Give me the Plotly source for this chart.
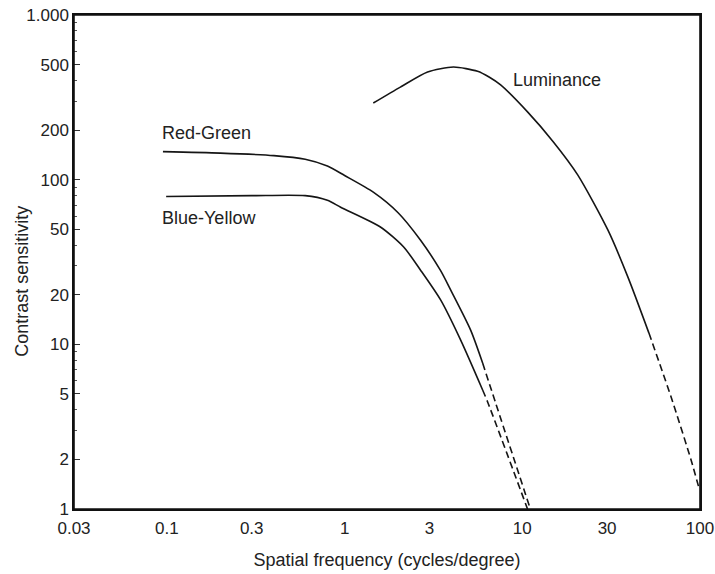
import math
import plotly.graph_objects as go

# Red-Green (solid part + dashed extrapolation)
rg_x = [0.095, 0.2, 0.4, 0.6, 0.8, 1.0, 1.45, 2.0, 2.67, 3.47, 3.95, 5.12, 5.98]
rg_y = [148, 145, 140, 133, 121, 106, 84, 63, 43, 28, 21.4, 12.2, 7.7]
rg_dx = [5.98, 7.08, 11.1]
rg_dy = [7.7, 4.4, 1.0]

# Blue-Yellow
by_x = [0.099, 0.3, 0.6, 0.8, 0.95, 1.59, 2.15, 2.67, 3.47, 4.5, 5.98]
by_y = [79, 80, 80, 75, 68, 51.6, 39, 28.3, 18.6, 10.6, 5.28]
by_dx = [5.98, 6.38, 10.7]
by_dy = [5.28, 4.47, 1.0]

# Luminance
lum_x = [1.45, 2.06, 2.93, 4.1, 5.6, 6.5, 7.55, 10.7, 15.0, 20.5, 30.3, 39.3, 51.6]
lum_y = [292, 365, 451, 483, 455, 420, 376, 258, 169, 107, 49.5, 25.6, 11.7]
lum_dx = [51.6, 68.7, 89.0, 98.7]
lum_dy = [11.7, 4.8, 1.99, 1.34]

y_ticks = [1, 2, 5, 10, 20, 50, 100, 200, 500, 1000]
y_text = ["1", "2", "5", "10", "20", "50", "100", "200", "500", "1.000"]
x_ticks = [0.03, 0.1, 0.3, 1, 3, 10, 30, 100]
x_text = ["0.03", "0.1", "0.3", "1", "3", "10", "30", "100"]
y_minor = [3, 4, 6, 7, 8, 9, 30, 40, 60, 70, 80, 90, 300, 400, 600, 700, 800, 900]

label_text = ["Red-Green", "Blue-Yellow", "Luminance"]
label_x = [0.092, 0.092, 8.6]
label_y = [192, 58.5, 403]

LC = "#151515"
TC = "#222222"
FS = 18
TFS = 17

fig = go.Figure()
for xs, ys, dash in [(rg_x, rg_y, "solid"), (rg_dx, rg_dy, "7px,4px"),
                     (by_x, by_y, "solid"), (by_dx, by_dy, "7px,4px"),
                     (lum_x, lum_y, "solid"), (lum_dx, lum_dy, "7px,4px")]:
    fig.add_trace(go.Scatter(x=xs, y=ys, mode="lines",
                             line=dict(color=LC, width=1.6, dash=dash, shape="spline", smoothing=0.7),
                             showlegend=False, hoverinfo="skip"))

for txt, lx, ly in zip(label_text, label_x, label_y):
    fig.add_annotation(x=math.log10(lx), y=math.log10(ly), xref="x", yref="y", text=txt,
                       showarrow=False, xanchor="left", yanchor="middle",
                       font=dict(size=FS, color=TC))

# y-axis title placed as rotated text
fig.add_annotation(x=0, y=0.46, xref="paper", yref="paper", xshift=-52,
                   text="Contrast sensitivity", textangle=-90, showarrow=False,
                   xanchor="center", yanchor="middle", font=dict(size=FS, color=TC))

# frame around the plotting area
fig.add_shape(type="rect", xref="paper", yref="paper", x0=0, y0=0, x1=1, y1=1,
              line=dict(color="#111", width=1.6), layer="above")

fig.update_xaxes(type="log", range=[math.log10(0.03), 2.0], tickvals=x_ticks, ticktext=x_text,
                 showline=True, linecolor="#111", linewidth=2, mirror=True,
                 ticks="outside", ticklen=3, tickcolor="rgba(0,0,0,0)", showgrid=False, zeroline=False,
                 automargin=False, ticklabeloverflow="allow",
                 tickfont=dict(size=TFS, color=TC),
                 title=dict(text="Spatial frequency (cycles/degree)", font=dict(size=FS, color=TC), standoff=16))
fig.update_yaxes(type="log", range=[0, 3], tickvals=y_ticks, ticktext=y_text,
                 showline=True, linecolor="#111", linewidth=1.5, mirror=True,
                 ticks="inside", ticklen=6, tickcolor="#333", showgrid=False, zeroline=False,
                 automargin=False, ticklabeloverflow="allow", ticksuffix="\u00a0\u00a0\u00a0",
                 minor=dict(tickvals=y_minor, ticks="inside", ticklen=3, tickcolor="#555"),
                 tickfont=dict(size=TFS, color=TC))

fig.update_layout(width=715, height=574, margin=dict(l=74, r=15, t=15, b=65),
                  plot_bgcolor="white", paper_bgcolor="white",
                  font=dict(family="Liberation Sans, Arial, sans-serif"))

fig.write_html("out.html", config={"displayModeBar": False},
               post_script="document.body.style.margin='0';document.body.style.overflow='hidden';")
